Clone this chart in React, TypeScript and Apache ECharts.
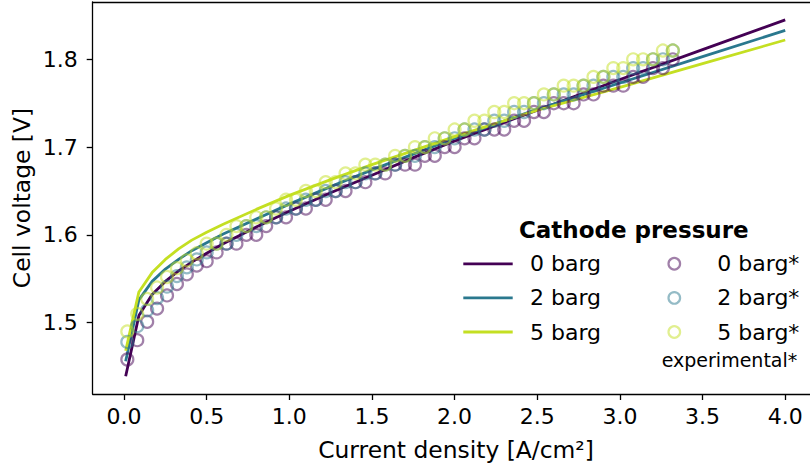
import React, { useEffect, useRef } from "react";
import * as echarts from "echarts";

// Model curves (lines)
const modelX = [0.01, 0.09, 0.17, 0.25, 0.33, 0.41, 0.5, 0.6, 0.8, 1.0, 1.25, 1.5, 1.75, 2.0, 2.5, 3.0, 3.5, 4.0];
const model0 = [1.439, 1.508, 1.532, 1.547, 1.559, 1.569, 1.579, 1.590, 1.609, 1.627, 1.648, 1.668, 1.688, 1.707, 1.742, 1.777, 1.811, 1.845];
const model2 = [1.456, 1.526, 1.547, 1.561, 1.572, 1.582, 1.591, 1.601, 1.618, 1.635, 1.655, 1.674, 1.692, 1.710, 1.743, 1.773, 1.803, 1.833];
const model5 = [1.468, 1.535, 1.557, 1.572, 1.584, 1.594, 1.603, 1.612, 1.629, 1.645, 1.663, 1.680, 1.696, 1.712, 1.742, 1.768, 1.795, 1.822];

// Experimental points (circles)
const expX = [
  0.02, 0.08, 0.14, 0.20, 0.26, 0.32, 0.38, 0.44, 0.50, 0.56, 0.62, 0.68, 0.74, 0.80,
  0.86, 0.92, 0.98, 1.04, 1.10, 1.16, 1.22, 1.28, 1.34, 1.40, 1.46, 1.52, 1.58, 1.64,
  1.70, 1.76, 1.82, 1.88, 1.94, 2.00, 2.06, 2.12, 2.18, 2.24, 2.30, 2.36, 2.42, 2.48,
  2.54, 2.60, 2.66, 2.72, 2.78, 2.84, 2.90, 2.96, 3.02, 3.08, 3.14, 3.20, 3.26, 3.32,
];
const exp0 = [
  1.458, 1.480, 1.501, 1.516, 1.531, 1.544, 1.555, 1.565, 1.57, 1.58, 1.59, 1.59, 1.60, 1.60,
  1.61, 1.62, 1.62, 1.63, 1.63, 1.64, 1.64, 1.65, 1.65, 1.66, 1.66, 1.67, 1.67, 1.68,
  1.68, 1.68, 1.69, 1.69, 1.70, 1.70, 1.71, 1.71, 1.72, 1.72, 1.72, 1.73, 1.73, 1.74,
  1.74, 1.75, 1.75, 1.75, 1.76, 1.76, 1.77, 1.77, 1.77, 1.78, 1.78, 1.79, 1.79, 1.80,
];
const exp2 = [
  1.478, 1.496, 1.514, 1.528, 1.541, 1.553, 1.563, 1.572, 1.58, 1.59, 1.59, 1.60, 1.61, 1.61,
  1.62, 1.62, 1.63, 1.63, 1.64, 1.64, 1.65, 1.65, 1.66, 1.66, 1.67, 1.67, 1.68, 1.68,
  1.69, 1.69, 1.70, 1.70, 1.71, 1.71, 1.72, 1.72, 1.72, 1.73, 1.73, 1.74, 1.74, 1.75,
  1.75, 1.76, 1.76, 1.76, 1.77, 1.77, 1.78, 1.78, 1.78, 1.79, 1.79, 1.80, 1.80, 1.81,
];
const exp5 = [
  1.490, 1.510, 1.527, 1.540, 1.552, 1.562, 1.571, 1.579, 1.59, 1.59, 1.60, 1.61, 1.61, 1.62,
  1.62, 1.63, 1.64, 1.64, 1.65, 1.65, 1.66, 1.66, 1.67, 1.67, 1.68, 1.68, 1.68, 1.69,
  1.69, 1.70, 1.70, 1.71, 1.71, 1.72, 1.72, 1.73, 1.73, 1.74, 1.74, 1.75, 1.75, 1.75,
  1.76, 1.76, 1.77, 1.77, 1.77, 1.78, 1.78, 1.79, 1.79, 1.80, 1.80, 1.80, 1.81, 1.81,
];

const xTicks = [0, 0.5, 1.0, 1.5, 2.0, 2.5, 3.0, 3.5, 4.0];
const yTicks = [1.5, 1.6, 1.7, 1.8];

const seriesNames = ["0 barg", "2 barg", "5 barg"];
const expNames = ["0 barg*", "2 barg*", "5 barg*"];
const colors = ["#440154", "#2a788e", "#c4df22"];

const FONT = "'DejaVu Sans', sans-serif";

export default function App() {
  const ref = useRef<HTMLDivElement>(null);
  useEffect(() => {
    if (!ref.current) return;
    const chart = echarts.init(ref.current, null, { renderer: "svg" });
    const models = [model0, model2, model5];
    const exps = [exp0, exp2, exp5];
    const lineSeries = models.map((m, i) => ({
      type: "line",
      name: seriesNames[i],
      data: modelX.map((x, j) => [x, m[j]]),
      showSymbol: false,
      symbol: "none",
      lineStyle: { color: colors[i], width: 2.8 },
      z: 2,
    }));
    const scatterSeries = exps.map((e, i) => ({
      type: "scatter",
      name: expNames[i],
      data: expX.map((x, j) => [x, e[j]]),
      symbol: "circle",
      symbolSize: 12,
      itemStyle: { color: "rgba(0,0,0,0)", borderColor: colors[i], borderWidth: 2.2, opacity: 0.5 },
      z: 3,
    }));

    const rowsY = [263.8, 297.9, 332.0];
    const legendEls: any[] = [
      {
        type: "text",
        x: 633.8,
        y: 229.5,
        style: { text: "Cathode pressure", font: `bold 23px ${FONT}`, fill: "#000", align: "center", verticalAlign: "middle" },
      },
      {
        type: "text",
        x: 661.7,
        y: 360,
        style: { text: "experimental*", font: `19px ${FONT}`, fill: "#000", align: "left", verticalAlign: "middle" },
      },
    ];
    rowsY.forEach((y, i) => {
      legendEls.push({
        type: "line",
        shape: { x1: 463.3, y1: y, x2: 512.7, y2: y },
        style: { stroke: colors[i], lineWidth: 2.8 },
      });
      legendEls.push({
        type: "text",
        x: 530,
        y,
        style: { text: seriesNames[i], font: `22px ${FONT}`, fill: "#000", align: "left", verticalAlign: "middle" },
      });
      legendEls.push({
        type: "circle",
        shape: { cx: 674.3, cy: y, r: 5.8 },
        style: { fill: "none", stroke: colors[i], lineWidth: 2.2, opacity: 0.5 },
      });
      legendEls.push({
        type: "text",
        x: 717.3,
        y,
        style: { text: expNames[i], font: `22px ${FONT}`, fill: "#000", align: "left", verticalAlign: "middle" },
      });
    });

    const axisCommon = {
      type: "value",
      splitLine: { show: false },
      axisLine: { show: true, onZero: false, lineStyle: { color: "#000", width: 1.3 } },
    };

    chart.setOption({
      animation: false,
      grid: { left: 92.7, top: 2, width: 725.5, height: 392, containLabel: false, outerBoundsMode: "none" },
      xAxis: [
        {
          ...axisCommon,
          min: -0.1895,
          max: 4.1995,
          axisTick: { show: true, length: 6, lineStyle: { color: "#000", width: 1.3 }, customValues: xTicks },
          axisLabel: {
            show: true,
            customValues: xTicks,
            formatter: (v: number) => v.toFixed(1),
            color: "#000",
            fontFamily: FONT,
            fontSize: 22,
            margin: 11,
          },
        },
        {
          ...axisCommon,
          position: "top",
          min: -0.1895,
          max: 4.1995,
          axisTick: { show: false },
          axisLabel: { show: false },
        },
      ],
      yAxis: [
        {
          ...axisCommon,
          min: 1.4187,
          max: 1.8653,
          axisTick: { show: true, length: 6, lineStyle: { color: "#000", width: 1.3 }, customValues: yTicks },
          axisLabel: {
            show: true,
            customValues: yTicks,
            formatter: (v: number) => v.toFixed(1),
            color: "#000",
            fontFamily: FONT,
            fontSize: 22,
            margin: 15,
          },
        },
      ],
      series: [...lineSeries, ...scatterSeries],
      graphic: [
        {
          type: "text",
          x: 456,
          y: 450,
          style: { text: "Current density [A/cm²]", font: `23.4px ${FONT}`, fill: "#000", align: "center", verticalAlign: "middle" },
        },
        {
          type: "text",
          x: 22,
          y: 198,
          rotation: Math.PI / 2,
          style: { text: "Cell voltage [V]", font: `23.4px ${FONT}`, fill: "#000", align: "center", verticalAlign: "middle" },
        },
        ...legendEls,
      ],
    });
    return () => chart.dispose();
  }, []);
  return (
    <div style={{ position: "fixed", left: 0, top: 0, width: 810, height: 468, overflow: "hidden", background: "#fff" }}>
      <div ref={ref} style={{ width: 830, height: 468 }} />
    </div>
  );
}
